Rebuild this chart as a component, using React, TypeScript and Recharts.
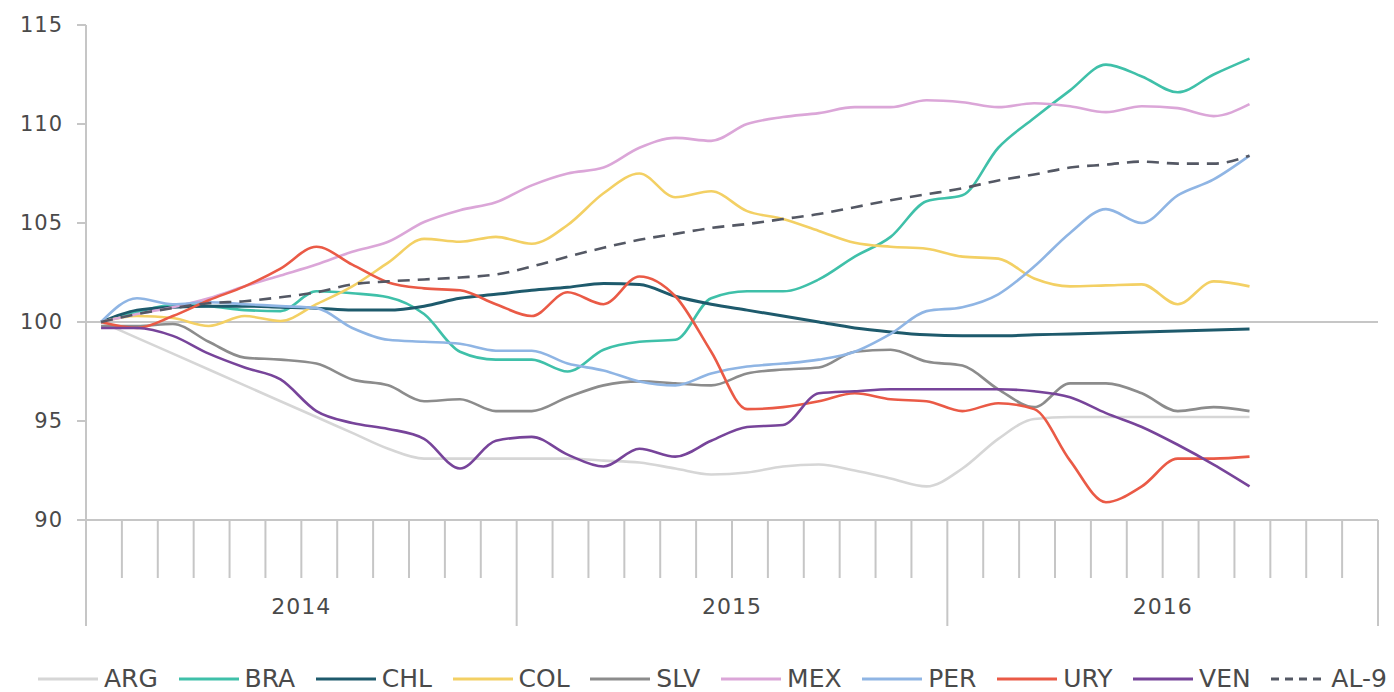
import React from 'react';
import { LineChart, Line, XAxis, YAxis, ReferenceLine } from 'recharts';

// meses de ene-2014 a sep-2016
const months = [
  '2014-01', '2014-02', '2014-03', '2014-04', '2014-05', '2014-06', '2014-07', '2014-08', '2014-09', '2014-10', '2014-11', '2014-12',
  '2015-01', '2015-02', '2015-03', '2015-04', '2015-05', '2015-06', '2015-07', '2015-08', '2015-09', '2015-10', '2015-11', '2015-12',
  '2016-01', '2016-02', '2016-03', '2016-04', '2016-05', '2016-06', '2016-07', '2016-08', '2016-09',
];
const years = ['2014', '2015', '2016'];
const yTicks = [90, 95, 100, 105, 110, 115];
const monthTicks = Array.from({ length: 37 }, (_, i) => i);

const arg = [100, 99.2, 98.4, 97.6, 96.8, 96.0, 95.2, 94.4, 93.6, 93.1, 93.1, 93.1, 93.1, 93.1, 93.0, 92.9, 92.6, 92.3, 92.4, 92.7, 92.8, 92.5, 92.1, 91.7, 92.6, 94.1, 95.1, 95.2, 95.2, 95.2, 95.2, 95.2, 95.2];
const bra = [100, 100.5, 100.85, 100.8, 100.6, 100.55, 101.55, 101.45, 101.25, 100.4, 98.5, 98.1, 98.1, 97.5, 98.6, 99.0, 99.1, 101.2, 101.55, 101.55, 102.15, 103.3, 104.3, 106.1, 106.4, 108.8, 110.3, 111.7, 113.0, 112.4, 111.6, 112.5, 113.3];
const chl = [100, 100.6, 100.75, 100.8, 100.8, 100.75, 100.7, 100.6, 100.6, 100.8, 101.2, 101.4, 101.6, 101.75, 101.95, 101.9, 101.3, 100.9, 100.6, 100.3, 100.0, 99.7, 99.5, 99.35, 99.3, 99.3, 99.35, 99.4, 99.45, 99.5, 99.55, 99.6, 99.65];
const col = [100, 100.3, 100.2, 99.8, 100.3, 100.05, 100.9, 101.8, 103.0, 104.2, 104.05, 104.3, 103.95, 104.9, 106.5, 107.5, 106.3, 106.6, 105.6, 105.2, 104.6, 104.0, 103.8, 103.7, 103.3, 103.2, 102.2, 101.8, 101.85, 101.9, 100.9, 102.05, 101.8];
const slv = [99.8, 99.8, 99.9, 99.0, 98.2, 98.1, 97.9, 97.1, 96.8, 96.0, 96.1, 95.5, 95.5, 96.2, 96.8, 97.0, 96.9, 96.8, 97.4, 97.6, 97.7, 98.5, 98.6, 98.0, 97.8, 96.6, 95.7, 96.9, 96.9, 96.4, 95.5, 95.7, 95.5];
const mex = [100, 100.4, 100.75, 101.2, 101.8, 102.35, 102.9, 103.55, 104.05, 105.05, 105.65, 106.05, 106.9, 107.5, 107.8, 108.8, 109.3, 109.15, 110.0, 110.35, 110.55, 110.85, 110.85, 111.2, 111.1, 110.85, 111.05, 110.9, 110.6, 110.9, 110.8, 110.4, 111.0];
const per = [100, 101.2, 100.9, 101.0, 100.9, 100.8, 100.7, 99.7, 99.1, 99.0, 98.9, 98.55, 98.55, 97.9, 97.55, 97.0, 96.8, 97.4, 97.75, 97.9, 98.1, 98.5, 99.4, 100.55, 100.75, 101.4, 102.8, 104.5, 105.7, 105.0, 106.4, 107.2, 108.4];
const ury = [100, 99.7, 100.3, 101.1, 101.8, 102.7, 103.8, 102.9, 102.0, 101.7, 101.6, 100.9, 100.3, 101.5, 100.9, 102.3, 101.3, 98.5, 95.6, 95.7, 96.0, 96.4, 96.1, 96.0, 95.5, 95.9, 95.6, 93.0, 90.9, 91.7, 93.1, 93.1, 93.2];
const ven = [99.7, 99.7, 99.3, 98.4, 97.7, 97.1, 95.5, 94.9, 94.6, 94.1, 92.6, 94.0, 94.2, 93.3, 92.7, 93.6, 93.2, 94.0, 94.7, 94.8, 96.4, 96.5, 96.6, 96.6, 96.6, 96.6, 96.5, 96.2, 95.4, 94.7, 93.8, 92.8, 91.7];
const al9 = [100, 100.4, 100.7, 100.95, 101.05, 101.25, 101.5, 101.9, 102.05, 102.15, 102.25, 102.4, 102.8, 103.3, 103.75, 104.15, 104.45, 104.75, 104.95, 105.2, 105.45, 105.8, 106.15, 106.45, 106.75, 107.15, 107.45, 107.8, 107.95, 108.1, 108.0, 108.0, 108.4];

const series = [
  { key: 'ARG', color: '#d6d6d6', values: arg, dash: false },
  { key: 'BRA', color: '#3fc0a9', values: bra, dash: false },
  { key: 'CHL', color: '#1e5a6c', values: chl, dash: false },
  { key: 'COL', color: '#f3d064', values: col, dash: false },
  { key: 'SLV', color: '#8c8c8c', values: slv, dash: false },
  { key: 'MEX', color: '#dba6d8', values: mex, dash: false },
  { key: 'PER', color: '#8fb5e4', values: per, dash: false },
  { key: 'URY', color: '#ea5a46', values: ury, dash: false },
  { key: 'VEN', color: '#77449a', values: ven, dash: false },
  { key: 'AL-9', color: '#545864', values: al9, dash: true },
];

const data = months.map((m, i) => {
  const row: any = { month: m, t: i + 0.42 };
  series.forEach((s) => { row[s.key] = s.values[i]; });
  return row;
});

const AXIS = '#c6c6c6';
const FONT = '"DejaVu Sans", sans-serif';
const TEXT = '#4a4a4a';

const MonthTick = ({ x, y, payload }: any) => {
  const v = payload.value as number;
  const yearEdge = v % 12 === 0;
  return (
    <g>
      <line x1={x} x2={x} y1={y} y2={y + (yearEdge ? 106 : 58)} stroke={AXIS} strokeWidth={2} />
      {v % 12 === 6 && (
        <text x={x} y={y + 94} textAnchor="middle" fontSize={22} fill={TEXT} letterSpacing={1}>
          {years[Math.floor(v / 12)]}
        </text>
      )}
    </g>
  );
};

export default function App() {
  return (
    <div style={{ position: 'absolute', left: 0, top: 0, width: 1394, height: 692, background: '#fff', fontFamily: FONT }}>
      <LineChart width={1394} height={692} data={data} margin={{ top: 25, right: 16, left: 0, bottom: 62 }}>
        <XAxis
          dataKey="t"
          type="number"
          domain={[0, 36]}
          ticks={monthTicks}
          interval={0}
          height={110}
          tickSize={0}
          tickMargin={0}
          tickLine={false}
          axisLine={{ stroke: AXIS, strokeWidth: 2 }}
          tick={<MonthTick />}
        />
        <YAxis
          domain={[90, 115]}
          ticks={yTicks}
          width={86}
          tickSize={9}
          tickMargin={14}
          axisLine={{ stroke: AXIS, strokeWidth: 2 }}
          tickLine={{ stroke: AXIS, strokeWidth: 2 }}
          tick={{ fontSize: 21, fill: TEXT, fontFamily: FONT, letterSpacing: 1 }}
        />
        <ReferenceLine y={100} stroke={AXIS} strokeWidth={2} />
        {series.map((s) => (
          <Line
            key={s.key}
            type="monotone"
            dataKey={s.key}
            stroke={s.color}
            strokeWidth={s.key === 'CHL' ? 3 : 2.6}
            strokeDasharray={s.dash ? '12 8' : undefined}
            dot={false}
            activeDot={false}
            isAnimationActive={false}
          />
        ))}
      </LineChart>

      {/* leyenda */}
      <div
        style={{
          position: 'absolute', left: 38, top: 664, width: 1349,
          display: 'flex', justifyContent: 'space-between', alignItems: 'center',
          fontSize: 25, color: TEXT, lineHeight: '30px',
        }}
      >
        {series.map((s) => (
          <div key={s.key} style={{ display: 'flex', alignItems: 'center' }}>
            <svg width={s.dash ? 54 : 60} height={6}>
              <line x1={0} x2={s.dash ? 54 : 60} y1={3} y2={3} stroke={s.color} strokeWidth={3} strokeDasharray={s.dash ? '8 6' : undefined} />
            </svg>
            <span style={{ marginLeft: 6 }}>{s.key}</span>
          </div>
        ))}
      </div>
    </div>
  );
}
